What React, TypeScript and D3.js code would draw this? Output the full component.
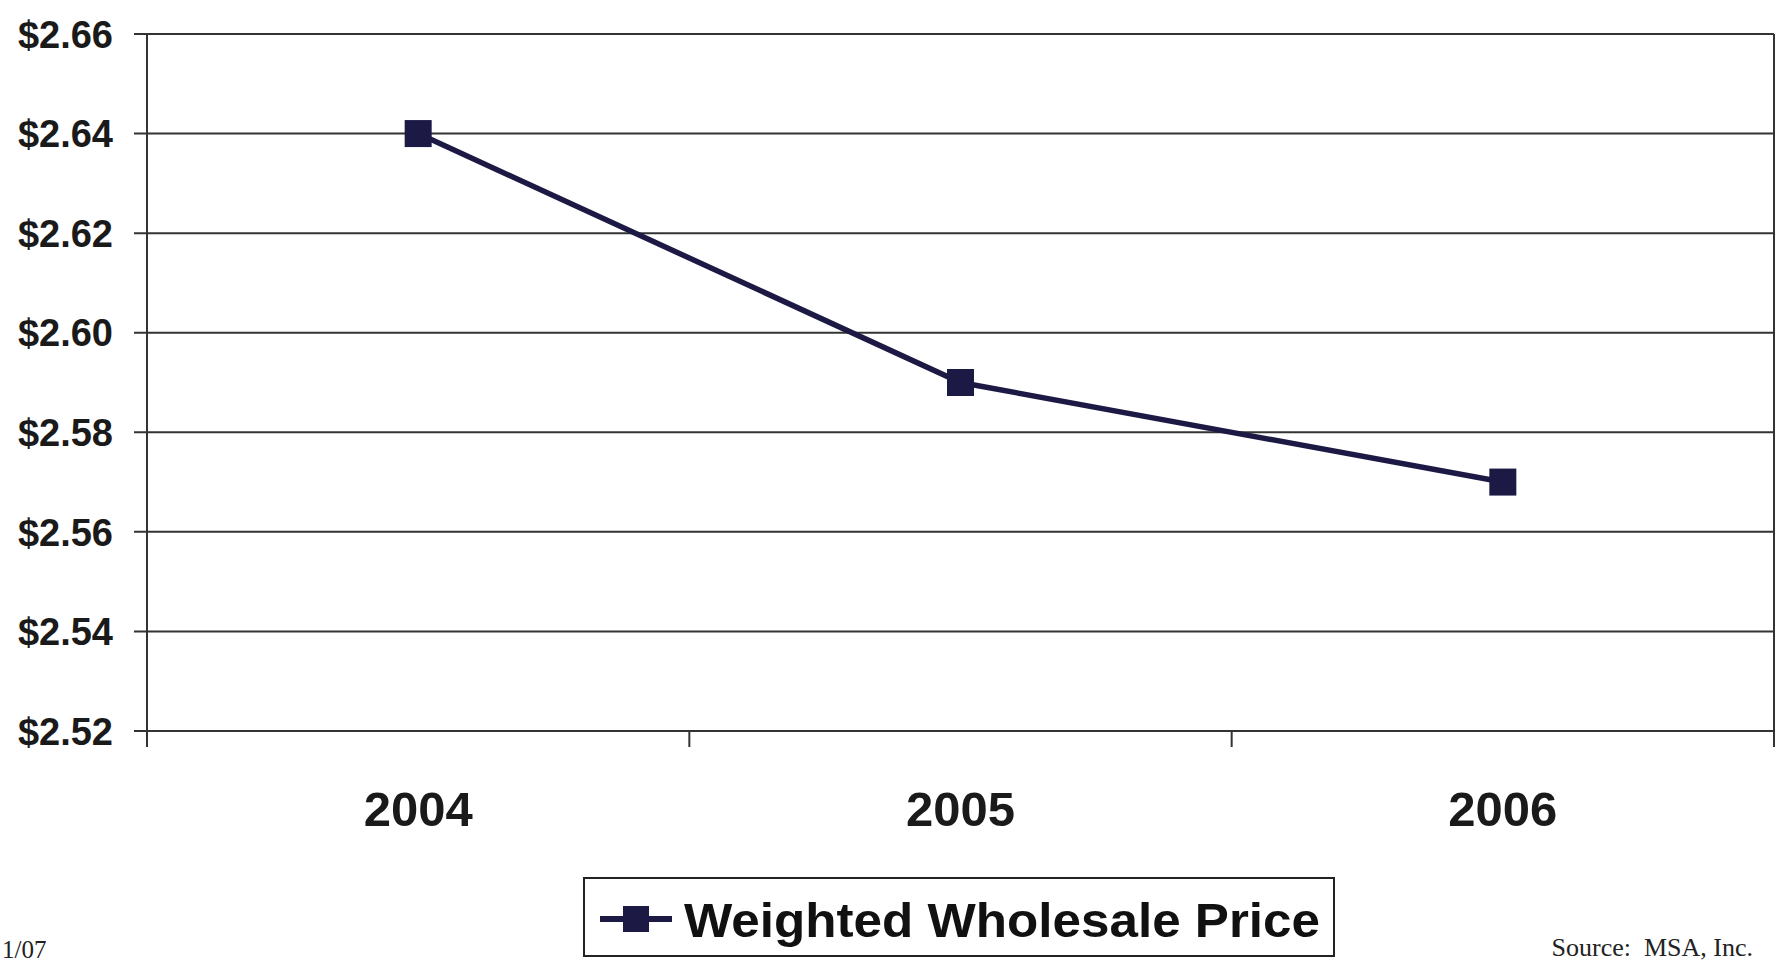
import React, { useEffect, useRef } from 'react';
import * as d3 from 'd3';

const years = ['2004', '2005', '2006'];
const prices = [2.64, 2.59, 2.57];
const yTicks = [2.52, 2.54, 2.56, 2.58, 2.6, 2.62, 2.64, 2.66];
const seriesName = 'Weighted Wholesale Price';
const sourceNote = 'Source:  MSA, Inc.';
const dateNote = '1/07';

const W = 1776;
const H = 963;
const lineColor = '#1c1a45';
const gridColor = '#333';

const App: React.FC = () => {
  const svgRef = useRef<SVGSVGElement>(null);

  useEffect(() => {
    if (!svgRef.current) return;
    const svg = d3.select(svgRef.current);
    svg.selectAll('*').remove();

    const margin = { top: 34, right: 2, bottom: 232, left: 147 };
    const innerW = W - margin.left - margin.right;
    const innerH = H - margin.top - margin.bottom;

    const g = svg.append('g').attr('transform', `translate(${margin.left},${margin.top})`);

    const x = d3.scaleBand().domain(years).range([0, innerW]);
    const y = d3.scaleLinear().domain([2.52, 2.66]).range([innerH, 0]);

    // horizontal grid + left ticks
    g.selectAll('.grid')
      .data(yTicks)
      .enter()
      .append('line')
      .attr('x1', -13)
      .attr('x2', innerW)
      .attr('y1', d => y(d))
      .attr('y2', d => y(d))
      .attr('stroke', gridColor)
      .attr('stroke-width', 2);

    g.selectAll('.ylab')
      .data(yTicks)
      .enter()
      .append('text')
      .attr('x', -34)
      .attr('y', d => y(d))
      .attr('dy', '0.36em')
      .attr('text-anchor', 'end')
      .attr('font-family', '"Liberation Sans", Arial, sans-serif')
      .attr('font-weight', 'bold')
      .attr('font-size', 38)
      .attr('fill', '#1a1a1a')
      .text(d => `$${d.toFixed(2)}`);

    // y axis
    g.append('line')
      .attr('x1', 0).attr('x2', 0)
      .attr('y1', 0).attr('y2', innerH + 16)
      .attr('stroke', gridColor).attr('stroke-width', 2);

    // x ticks at band boundaries (last one doubles as right border)
    const bounds = years.map(d => x(d)!).concat([innerW]);
    g.selectAll('.xtick')
      .data(bounds.slice(1))
      .enter()
      .append('line')
      .attr('x1', d => d).attr('x2', d => d)
      .attr('y1', d => (d === innerW ? 0 : innerH))
      .attr('y2', innerH + 16)
      .attr('stroke', gridColor).attr('stroke-width', 2);

    g.selectAll('.xlab')
      .data(years)
      .enter()
      .append('text')
      .attr('x', d => x(d)! + x.bandwidth() / 2)
      .attr('y', innerH + 95)
      .attr('text-anchor', 'middle')
      .attr('font-family', '"Liberation Sans", Arial, sans-serif')
      .attr('font-weight', 'bold')
      .attr('font-size', 49)
      .attr('fill', '#1a1a1a')
      .text(d => d);

    const pts = years.map((d, i) => [x(d)! + x.bandwidth() / 2, y(prices[i])] as [number, number]);
    g.append('path')
      .attr('d', d3.line()(pts))
      .attr('fill', 'none')
      .attr('stroke', lineColor)
      .attr('stroke-width', 5.5);

    g.selectAll('.mark')
      .data(pts)
      .enter()
      .append('rect')
      .attr('x', d => d[0] - 13.5)
      .attr('y', d => d[1] - 13.5)
      .attr('width', 27)
      .attr('height', 27)
      .attr('fill', lineColor);

    // legend
    const lg = svg.append('g').attr('transform', 'translate(584,878)');
    lg.append('rect')
      .attr('x', 0).attr('y', 0).attr('width', 750).attr('height', 78)
      .attr('fill', 'white').attr('stroke', '#222').attr('stroke-width', 2);
    lg.append('line')
      .attr('x1', 16).attr('x2', 88).attr('y1', 41).attr('y2', 41)
      .attr('stroke', lineColor).attr('stroke-width', 6);
    lg.append('rect')
      .attr('x', 39).attr('y', 28).attr('width', 26).attr('height', 26)
      .attr('fill', lineColor);
    lg.append('text')
      .attr('x', 100).attr('y', 41).attr('dy', '0.36em')
      .attr('font-family', '"Liberation Sans", Arial, sans-serif')
      .attr('font-weight', 'bold')
      .attr('font-size', 49)
      .attr('textLength', 636)
      .attr('lengthAdjust', 'spacingAndGlyphs')
      .attr('fill', '#111')
      .text(seriesName);

    svg.append('text')
      .attr('x', 1753).attr('y', 956)
      .attr('text-anchor', 'end')
      .attr('font-family', '"Liberation Serif", "Times New Roman", serif')
      .attr('font-size', 26)
      .attr('fill', '#222')
      .attr('xml:space', 'preserve')
      .style('white-space', 'pre')
      .text(sourceNote);

    svg.append('text')
      .attr('x', 2).attr('y', 958)
      .attr('font-family', '"Liberation Serif", "Times New Roman", serif')
      .attr('font-size', 25)
      .attr('fill', '#222')
      .text(dateNote);
  }, []);

  return (
    <svg
      ref={svgRef}
      width={W}
      height={H}
      style={{ position: 'absolute', left: 0, top: 0, background: 'white' }}
    />
  );
};

export default App;
